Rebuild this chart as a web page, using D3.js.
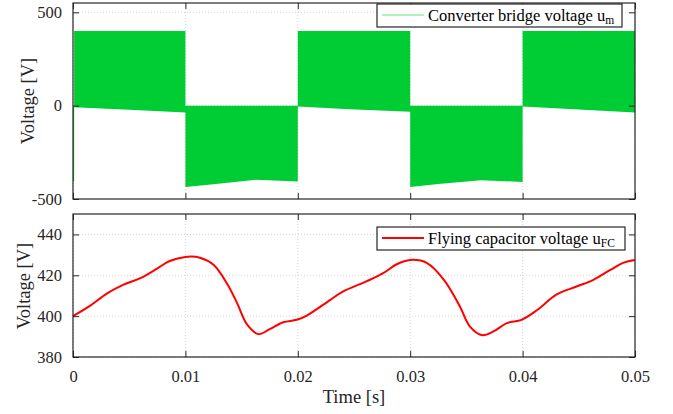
<!DOCTYPE html>
<html>
<head>
<meta charset="utf-8">
<script src="https://cdn.jsdelivr.net/npm/d3@7"></script>
<style>
  body { margin: 0; background: #fff; }
  svg text { font-family: "Liberation Serif", "Times New Roman", serif; }
  .axis path, .axis line { stroke: #262626; }
  .axis text { fill: #262626; font-size: 16.5px; font-family: "Liberation Serif", serif; }
  .grid line { stroke: #d4d4d4; stroke-dasharray: 1,2; }
</style>
</head>
<body>
<div id="chart"></div>
<script>
// converter bridge voltage envelope (filled band between lower and upper)
var umTime  = [0,    0.0001, 0.0001, 0.005, 0.01, 0.01, 0.0125, 0.0163, 0.02, 0.02, 0.0246, 0.03, 0.03, 0.0325, 0.0363, 0.04, 0.04, 0.045, 0.05];
var umUpper = [-8,   -8,     400,    400,   400,  0,    0,      0,      0,    400,  400,    400,  0,    0,      0,      0,    400,  400,   400];
var umLower = [-405, -405,   -8,     -22,   -37,  -436, -421,   -397,   -406, -5,   -19,    -33,  -436, -420,   -399,   -409, -5,   -21,   -37];

// flying capacitor voltage
var ufcTime  = [0, 0.0015, 0.003, 0.0045, 0.006, 0.0074, 0.0086, 0.01, 0.0113, 0.0125, 0.0137, 0.0146, 0.0155, 0.0165, 0.0175, 0.0187, 0.0199, 0.0208, 0.0229, 0.024, 0.0261, 0.0276, 0.0288, 0.03, 0.0315, 0.033, 0.0344, 0.0353, 0.0364, 0.0374, 0.0386, 0.0399, 0.0413, 0.043, 0.0448, 0.0463, 0.0478, 0.049, 0.05];
var ufcValue = [400, 405, 411, 415.4, 418.6, 423, 427, 429, 428.6, 425.1, 416, 406.4, 395.8, 391.2, 393.6, 397, 398.2, 400.3, 408, 412, 417, 421, 425.4, 427.5, 426, 417.8, 405, 395, 390.7, 392.5, 396.6, 398.2, 403, 410.5, 414.5, 417.8, 422.6, 426.2, 427.5];

var xTicks = [0, 0.01, 0.02, 0.03, 0.04, 0.05];
var topTicks = [-500, 0, 500];
var bottomTicks = [380, 400, 420, 440];

var W = 673, H = 414;
var left = 73, right = 635;
var tickLen = 6;

var svg = d3.select("#chart").append("svg")
    .attr("width", W)
    .attr("height", H);

var x = d3.scaleLinear().domain([0, 0.05]).range([left, right]);
var yTop = d3.scaleLinear().domain([-500, 550]).range([199, 3]);
var yBot = d3.scaleLinear().domain([380, 450]).range([357, 214]);

function drawGrid(y, yTicks) {
    var y0 = y.range()[0], y1 = y.range()[1];
    var g = svg.append("g").attr("class", "grid");
    g.selectAll(".gx").data(xTicks).enter().append("line")
        .attr("x1", function (d) { return x(d); })
        .attr("x2", function (d) { return x(d); })
        .attr("y1", y0).attr("y2", y1);
    g.selectAll(".gy").data(yTicks).enter().append("line")
        .attr("x1", left).attr("x2", right)
        .attr("y1", function (d) { return y(d); })
        .attr("y2", function (d) { return y(d); });
}

function drawAxes(y, yTicks, showXLabels) {
    var y0 = y.range()[0], y1 = y.range()[1];
    svg.append("g")
        .attr("class", "axis")
        .attr("transform", "translate(0," + y0 + ")")
        .call(d3.axisBottom(x).tickValues(xTicks).tickSizeInner(-tickLen).tickSizeOuter(0)
            .tickPadding(13).tickFormat(showXLabels ? function (d) { return d === 0 ? "0" : d3.format(".2f")(d); } : ""));
    svg.append("g")
        .attr("class", "axis")
        .attr("transform", "translate(0," + y1 + ")")
        .call(d3.axisTop(x).tickValues(xTicks).tickSizeInner(-tickLen).tickSizeOuter(0).tickFormat(""));
    svg.append("g")
        .attr("class", "axis")
        .attr("transform", "translate(" + left + ",0)")
        .call(d3.axisLeft(y).tickValues(yTicks).tickSizeInner(-tickLen).tickSizeOuter(0).tickPadding(11)
            .tickFormat(function (d) { return String(d); }));
    svg.append("g")
        .attr("class", "axis")
        .attr("transform", "translate(" + right + ",0)")
        .call(d3.axisRight(y).tickValues(yTicks).tickSizeInner(-tickLen).tickSizeOuter(0).tickFormat(""));
    svg.append("rect")
        .attr("x", left).attr("y", y1)
        .attr("width", right - left).attr("height", y0 - y1)
        .attr("fill", "none").attr("stroke", "#262626").attr("stroke-width", 1.2);
    svg.selectAll(".axis .domain").remove();
}

// top plot
drawGrid(yTop, [500, 0]);
var umData = umTime.map(function (t, i) { return {t: t, lo: umLower[i], hi: umUpper[i]}; });
svg.append("path")
    .datum(umData)
    .attr("fill", "#00cc33")
    .attr("d", d3.area()
        .x(function (d) { return x(d.t); })
        .y0(function (d) { return yTop(d.lo); })
        .y1(function (d) { return yTop(d.hi); }));
drawAxes(yTop, topTicks, false);

// bottom plot
drawGrid(yBot, bottomTicks);
var ufcData = ufcTime.map(function (t, i) { return {t: t, v: ufcValue[i]}; });
svg.append("path")
    .datum(ufcData)
    .attr("fill", "none")
    .attr("stroke", "#ff0000")
    .attr("stroke-width", 2)
    .attr("d", d3.line()
        .curve(d3.curveCatmullRom.alpha(0.5))
        .x(function (d) { return x(d.t); })
        .y(function (d) { return yBot(d.v); }));
drawAxes(yBot, bottomTicks, true);

// axis labels
function yLabel(cx, cy) {
    svg.append("text")
        .attr("transform", "translate(" + cx + "," + cy + ") rotate(-90)")
        .attr("text-anchor", "middle")
        .attr("fill", "#262626")
        .style("font-size", "18.5px")
        .text("Voltage [V]");
}
yLabel(34, 101);
yLabel(30, 286);

svg.append("text")
    .attr("x", (left + right) / 2)
    .attr("y", 403)
    .attr("text-anchor", "middle")
    .attr("fill", "#262626")
    .style("font-size", "18.5px")
    .text("Time [s]");

// legends
function legend(x0, y0, w, color, lineOpacity, lineWidth, label, sub) {
    var g = svg.append("g");
    g.append("rect")
        .attr("x", x0).attr("y", y0).attr("width", w).attr("height", 23)
        .attr("fill", "#fff").attr("stroke", "#262626").attr("stroke-width", 1.2);
    g.append("line")
        .attr("x1", x0 + 5).attr("x2", x0 + 47)
        .attr("y1", y0 + 11).attr("y2", y0 + 11)
        .attr("stroke", color).attr("stroke-opacity", lineOpacity).attr("stroke-width", lineWidth);
    var t = g.append("text")
        .attr("x", x0 + 51).attr("y", y0 + 17)
        .attr("fill", "#000")
        .style("font-size", "16.5px")
        .text(label);
    t.append("tspan")
        .attr("dy", 2.5)
        .style("font-size", "11.5px")
        .text(sub);
}
legend(377, 4, 245, "#00cc33", 0.6, 1.2, "Converter bridge voltage u", "m");
legend(377, 227, 248, "#ff0000", 1, 2, "Flying capacitor voltage u", "FC");
</script>
</body>
</html>
